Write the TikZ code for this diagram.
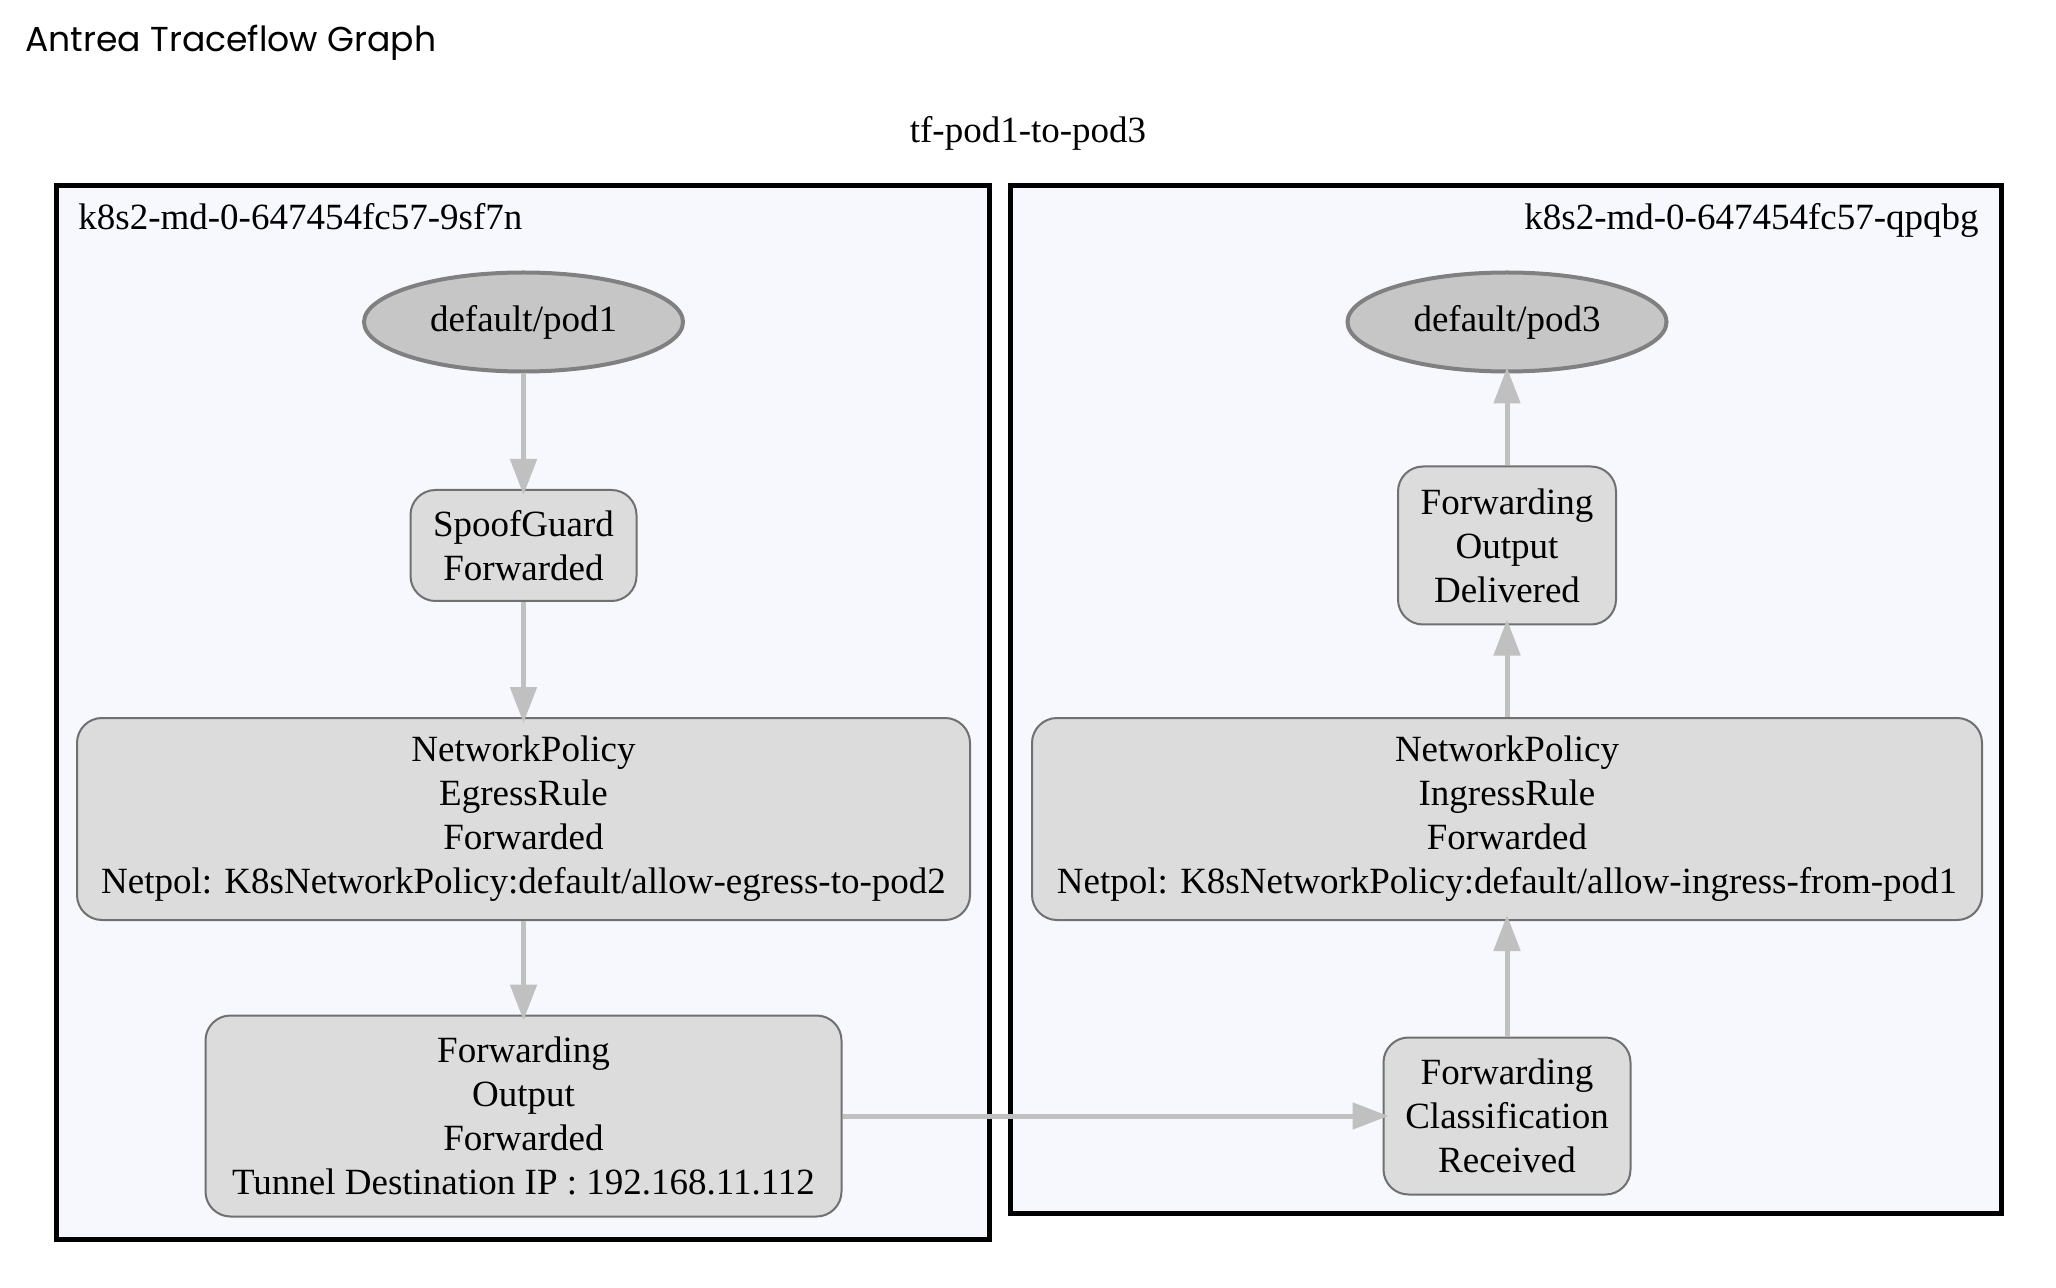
\documentclass[tikz,border=0pt]{standalone}
\usepackage{fontspec}
\setmainfont{Liberation Serif}
\newfontfamily\titlefont{Poppins}
\usetikzlibrary{arrows.meta,shapes.geometric}
\definecolor{clfill}{HTML}{F7F8FE}
\definecolor{boxfill}{HTML}{DCDCDC}
\definecolor{boxline}{HTML}{707070}
\definecolor{podfill}{HTML}{C6C6C6}
\definecolor{podline}{HTML}{808080}
\definecolor{edgegray}{HTML}{C0C0C0}
\tikzset{
  cluster/.style={draw=black, line width=2.5pt, fill=clfill},
  txt/.style={font=\fontsize{18.5}{22}\selectfont, inner sep=0pt},
  podnode/.style={ellipse, draw=podline, line width=2pt, fill=podfill, inner sep=0pt, font=\fontsize{18.5}{22}\selectfont},
  stepbox/.style={rectangle, rounded corners=12.5pt, draw=boxline, line width=1pt, fill=boxfill, inner sep=0pt, align=center, font=\fontsize{18.5}{22}\selectfont},
  edge/.style={draw=edgegray, line width=2.5pt, -{Triangle[length=18pt,width=13pt]}, shorten >=-3pt}
}
\begin{document}
\begin{tikzpicture}[x=0.5pt,y=-0.5pt]
\useasboundingbox[fill=white] (0,0) rectangle (2056,1288);

% title
\node[anchor=base west, inner sep=0pt, font=\titlefont\fontsize{17.3}{20}\selectfont] (title) at (25,52) {Antrea Traceflow Graph};
\node[txt, anchor=base] (graphlabel) at (1028,143) {tf-pod1-to-pod3};

% clusters
\draw[cluster] (56,186) rectangle (989,1239);
\draw[cluster] (1010,186) rectangle (2001,1213.5);
\node[txt, anchor=base west] (cl1) at (78,230) {k8s2-md-0-647454fc57-9sf7n};
\node[txt, anchor=base east] (cl2) at (1979,230) {k8s2-md-0-647454fc57-qpqbg};

% left column
\node[podnode, minimum width=159.5pt, minimum height=49.5pt] (pod1) at (523.5,322) {default/pod1};
\node[stepbox, minimum width=113pt, minimum height=55.5pt] (sg) at (523.5,545.5) {SpoofGuard\\Forwarded};
\node[stepbox, minimum width=446.5pt, minimum height=101pt] (egress) at (523.5,819) {NetworkPolicy\\EgressRule\\Forwarded\\Netpol: K8sNetworkPolicy:default/allow-egress-to-pod2};
\node[stepbox, minimum width=318pt, minimum height=100.5pt] (tunnel) at (523.5,1116) {Forwarding\\Output\\Forwarded\\Tunnel Destination IP : 192.168.11.112};

% right column
\node[podnode, minimum width=159.5pt, minimum height=49.5pt] (pod3) at (1507,322) {default/pod3};
\node[stepbox, minimum width=109pt, minimum height=79pt] (deliv) at (1507,545.5) {Forwarding\\Output\\Delivered};
\node[stepbox, minimum width=475pt, minimum height=101pt] (ingress) at (1507,819) {NetworkPolicy\\IngressRule\\Forwarded\\Netpol: K8sNetworkPolicy:default/allow-ingress-from-pod1};
\node[stepbox, minimum width=123.5pt, minimum height=78.5pt] (classif) at (1507,1116) {Forwarding\\Classification\\Received};

% edges
\draw[edge] (pod1) -- (sg);
\draw[edge] (sg) -- (egress);
\draw[edge] (egress) -- (tunnel);
\draw[edge] (tunnel) -- (classif);
\draw[edge] (classif) -- (ingress);
\draw[edge] (ingress) -- (deliv);
\draw[edge] (deliv) -- (pod3);
\end{tikzpicture}
\end{document}
